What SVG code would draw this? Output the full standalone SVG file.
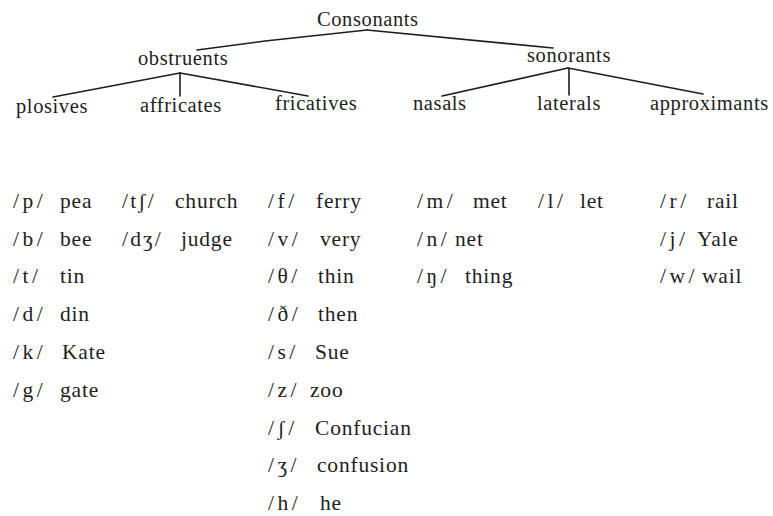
<svg xmlns="http://www.w3.org/2000/svg" width="773" height="516" viewBox="0 0 773 516">
<style>
.bg{fill:#ffffff}
.h{font-family:"Liberation Serif","Times New Roman",serif;font-size:20.5px;fill:#1e1e1e;letter-spacing:0.6px}
.e{font-family:"Liberation Serif","DejaVu Serif",serif;font-size:21.5px;fill:#1e1e1e;letter-spacing:0.8px}
.s{font-family:"Liberation Serif","DejaVu Serif",serif;font-size:21.5px;fill:#1e1e1e;letter-spacing:3.5px}
.s2{font-family:"Liberation Serif","DejaVu Serif",serif;font-size:21.5px;fill:#1e1e1e;letter-spacing:2.2px}
.c{fill:none;stroke:#1e1e1e;stroke-width:1.6;stroke-linecap:round}
</style>
<rect class="bg" x="0" y="0" width="773" height="516"/>
<g id="connectors">
<path class="c" d="M197,50 L265,41 L367,30"/>
<path class="c" d="M367,30 L553,48"/>
<path class="c" d="M180,73 L53,97"/>
<path class="c" d="M180,73 L180,96"/>
<path class="c" d="M180,73 L308,96"/>
<path class="c" d="M568,68 L442,96"/>
<path class="c" d="M569,69 L569,95"/>
<path class="c" d="M568,68 L703,94"/>
</g>
<g id="consonants"><text class="h" x="317" y="26">Consonants</text></g>
<g id="obstruents"><text class="h" x="138" y="65">obstruents</text></g>
<g id="sonorants"><text class="h" x="527" y="62">sonorants</text></g>
<g id="plosives"><text class="h" x="16" y="113">plosives</text></g>
<g id="affricates"><text class="h" x="140" y="112">affricates</text></g>
<g id="fricatives"><text class="h" x="275" y="110">fricatives</text></g>
<g id="nasals"><text class="h" x="413" y="110">nasals</text></g>
<g id="laterals"><text class="h" x="537" y="110">laterals</text></g>
<g id="approximants"><text class="h" x="650" y="110">approximants</text></g>

<g id="plosive-examples">
<text class="s" x="13" y="208">/p/</text><text class="e" x="60" y="208">pea</text>
<text class="s" x="13" y="246">/b/</text><text class="e" x="60" y="246">bee</text>
<text class="s" x="13" y="283">/t/</text><text class="e" x="60" y="283">tin</text>
<text class="s" x="13" y="321">/d/</text><text class="e" x="60" y="321">din</text>
<text class="s" x="13" y="359">/k/</text><text class="e" x="62" y="359">Kate</text>
<text class="s" x="13" y="397">/g/</text><text class="e" x="60" y="397">gate</text>
</g>
<g id="affricate-examples">
<text class="s2" x="122" y="208">/tʃ/</text><text class="e" x="175" y="208">church</text>
<text class="s2" x="122" y="246">/dʒ/</text><text class="e" x="181" y="246">judge</text>
</g>
<g id="fricative-examples">
<text class="s" x="268" y="208">/f/</text><text class="e" x="316" y="208">ferry</text>
<text class="s" x="268" y="246">/v/</text><text class="e" x="320" y="246">very</text>
<text class="s" x="268" y="283">/θ/</text><text class="e" x="318" y="283">thin</text>
<text class="s" x="268" y="321">/ð/</text><text class="e" x="318" y="321">then</text>
<text class="s" x="268" y="359">/s/</text><text class="e" x="315" y="359">Sue</text>
<text class="s" x="268" y="397">/z/</text><text class="e" x="310" y="397">zoo</text>
<text class="s" x="268" y="435">/ʃ/</text><text class="e" x="315" y="435">Confucian</text>
<text class="s" x="268" y="472">/ʒ/</text><text class="e" x="317" y="472">confusion</text>
<text class="s" x="268" y="510">/h/</text><text class="e" x="320" y="510">he</text>
</g>
<g id="nasal-examples">
<text class="s" x="417" y="208">/m/</text><text class="e" x="473" y="208">met</text>
<text class="s" x="417" y="246">/n/</text><text class="e" x="455" y="246">net</text>
<text class="s" x="417" y="283">/ŋ/</text><text class="e" x="465" y="283">thing</text>
</g>
<g id="lateral-examples">
<text class="s" x="538" y="208">/l/</text><text class="e" x="580" y="208">let</text>
</g>
<g id="approximant-examples">
<text class="s" x="660" y="208">/r/</text><text class="e" x="707" y="208">rail</text>
<text class="s" x="660" y="246">/j/</text><text class="e" x="697" y="246">Yale</text>
<text class="s" x="660" y="283">/w/</text><text class="e" x="702" y="283">wail</text>
</g>
</svg>
